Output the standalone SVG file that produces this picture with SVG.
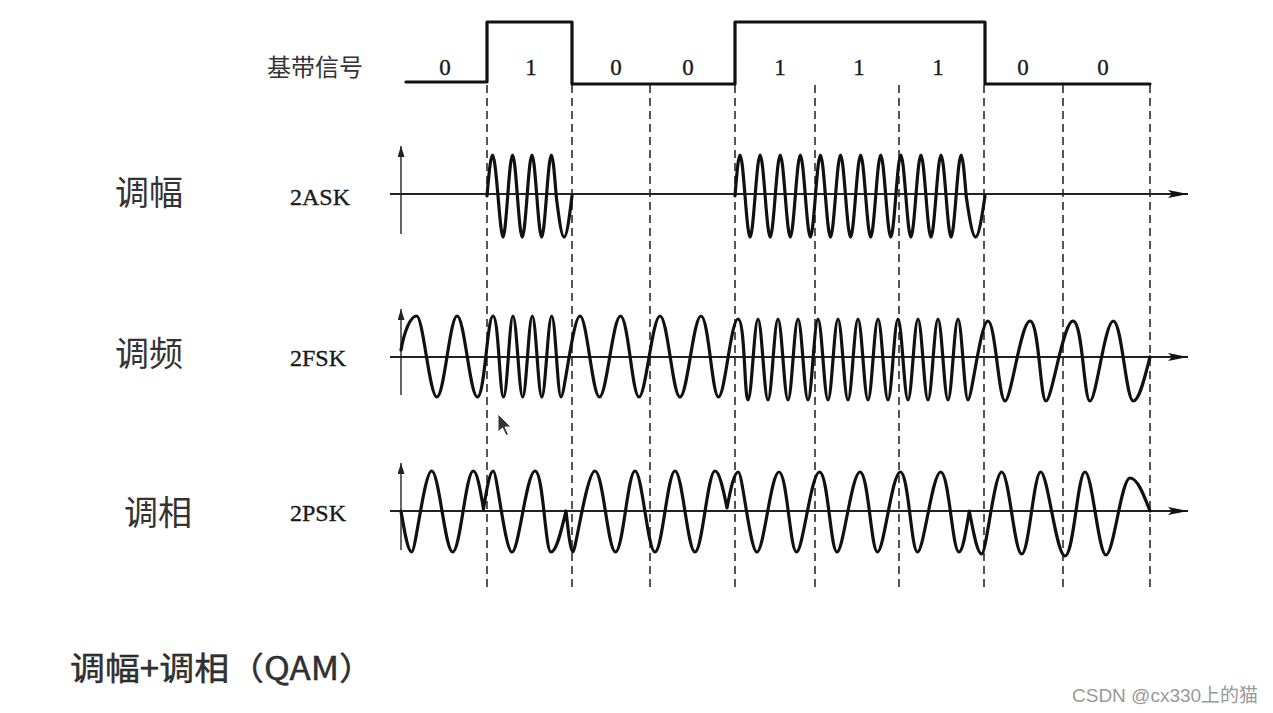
<svg xmlns="http://www.w3.org/2000/svg" width="1273" height="713" viewBox="0 0 1273 713">
<style>
.cjk{font-family:"Noto Sans CJK SC","Noto Sans",sans-serif;fill:#333}
.ser{font-family:"Liberation Serif",serif;fill:#1a1a1a;stroke:#1a1a1a;stroke-width:0.35}
.wave{fill:none;stroke:#111;stroke-width:3.2;stroke-linejoin:round;stroke-linecap:round}
.dash{stroke:#555;stroke-width:2;stroke-dasharray:8 5;fill:none}
.haxis{stroke:#222;stroke-width:2;fill:none}
.vaxis{stroke:#666;stroke-width:2;fill:none}
</style>
<defs>
<marker id="harr" markerUnits="userSpaceOnUse" markerWidth="22" markerHeight="10" refX="20" refY="4" orient="auto"><path d="M0,0 L20,4 L0,8 L4,4 z" fill="#111"/></marker>
<marker id="varr" markerUnits="userSpaceOnUse" markerWidth="13" markerHeight="9" refX="11" refY="3.5" orient="auto"><path d="M0,0 L11,3.5 L0,7 z" fill="#222"/></marker>
</defs>
<rect width="1273" height="713" fill="#fff"/>

<g id="grid">
<path class="dash" d="M487,85V592M572,85V592M650,85V592M735,85V592M815,85V592M899,85V592M984,85V592M1063,85V592M1150,85V592"/>
</g>

<g id="baseband">
<text class="cjk" x="267" y="76" font-size="24" fill="#444">基带信号</text>
<path class="wave" d="M406,82 H487 V22 H572 V84 H735 V22 H985 V84 H1150" stroke-linecap="butt"/>
<g class="ser" font-size="23" text-anchor="middle">
<text x="445" y="75">0</text><text x="531" y="75">1</text><text x="616" y="75">0</text><text x="688" y="75">0</text>
<text x="780" y="75">1</text><text x="859" y="75">1</text><text x="938" y="75">1</text><text x="1023" y="75">0</text><text x="1103" y="75">0</text>
</g>
</g>

<g id="ask">
<text class="cjk" x="115" y="205" font-size="34">调幅</text>
<text class="ser" x="290" y="205" font-size="24">2ASK</text>
<path class="vaxis" d="M401,234 V146" marker-end="url(#varr)"/>
<path class="haxis" d="M390,194 H1188" marker-end="url(#harr)"/>
<path class="wave" d="M487,196 c4.67,-54.7 6.33,-54.7 11,0 s5.58,54.7 9.7,0 s5.58,-54.7 9.7,0 s5.58,54.7 9.7,0 s5.58,-54.7 9.7,0 s5.58,54.7 9.7,0 s5.58,-54.7 9.7,0 c6.71,54.7 9.09,54.7 15.8,0"/>
<path class="wave" d="M735,196 c4.27,-54.7 5.78,-54.7 10.05,0 s5.78,54.7 10.05,0 s5.78,-54.7 10.05,0 s5.78,54.7 10.05,0 s5.78,-54.7 10.05,0 s5.78,54.7 10.05,0 s5.78,-54.7 10.05,0 s5.78,54.7 10.05,0 s5.78,-54.7 10.05,0 s5.78,54.7 10.05,0 s5.78,-54.7 10.05,0 s5.78,54.7 10.05,0 s5.78,-54.7 10.05,0 s5.78,54.7 10.05,0 s5.78,-54.7 10.05,0 s5.78,54.7 10.05,0 s5.78,-54.7 10.05,0 s5.78,54.7 10.05,0 s5.78,-54.7 10.05,0 s5.78,54.7 10.05,0 s5.78,-54.7 10.05,0 s5.78,54.7 10.05,0 s5.78,-54.7 10.05,0 c8,54.7 10.85,54.7 18.85,0"/>
</g>

<g id="fsk">
<text class="cjk" x="115" y="366" font-size="34">调频</text>
<text class="ser" x="290" y="366" font-size="24">2FSK</text>
<path class="vaxis" d="M401,395 V309" marker-end="url(#varr)"/>
<path class="haxis" d="M390,357 H1188" marker-end="url(#harr)"/>
<path class="wave" d="M401,350 C404,333 410,316 416.6,316 S429.5,397 436.9,397 S449.8,316 457.1,316 S470,397 477.4,397 S487.3,316 493,316 S499.7,397 503.5,397 S509.5,316 513,316 S519.2,397 522.7,397 S528.8,316 532.3,316 S538.3,397 541.8,397 S548.1,316 551.7,316 S557.6,397 561,397 S573.1,316 580,316 S592.4,397 599.5,397 S612.9,316 620.5,316 S632.3,397 639,397 S652.4,316 660,316 S672.7,397 680,397 S693.4,316 701,316 S712.1,397 718.5,397 S730.9,319 738,319 s6.37,81 10,81 s6.37,-81 10,-81 s6.37,81 10,81 s6.37,-81 10,-81 s6.37,81 10,81 s6.37,-81 10,-81 s6.37,81 10,81 s6.37,-81 10,-81 s6.37,81 10,81 s6.37,-81 10,-81 s6.37,81 10,81 s6.37,-81 10,-81 s6.37,81 10,81 s6.37,-81 10,-81 s6.37,81 10,81 s6.37,-81 10,-81 s6.37,81 10,81 s6.37,-81 10,-81 s6.37,81 10,81 s6.37,-81 10,-81 s6.37,81 10,81 s6.37,-81 10,-81 s6.37,81 10,81 S980.7,321 988,321 S998.8,401 1005,401 S1020.9,321 1030,321 S1040.2,401 1046,401 S1063.2,321 1073,321 S1083.8,401 1090,401 S1104.8,321 1113.3,321 S1126,401 1133.3,401 C1139.3,401 1144.6,378 1150,357"/>
</g>

<g id="psk">
<text class="cjk" x="124" y="525" font-size="34">调相</text>
<text class="ser" x="290" y="521" font-size="24">2PSK</text>
<path class="vaxis" d="M401,550 V463" marker-end="url(#varr)"/>
<path class="haxis" d="M390,511 H1188" marker-end="url(#harr)"/>
<path class="wave" d="M401,511 C404.5,531.5 407.8,552 411.7,552 S424.4,471 431.7,471 S445.1,552 452.7,552 S465.8,471 473.3,471 C477,471 480.2,489 483.5,509 C486.7,489 489.8,471 493.3,471 S505.2,552 512,552 S526.6,471 535,471 S545.2,552 551,552 C556.4,552 561.1,531.5 566,511 C568.3,531.5 570.5,552 573,552 S587,471 595,471 S608,552 615.5,552 S627.9,471 635,471 S647.7,552 655,552 S667.7,471 675,471 S687.7,552 695,552 S707.7,471 715,471 C719.3,471 723.1,488.5 727,508 C730.7,488.5 734.2,472 738.3,472 S750.2,552 757,552 S771,472 779,472 S790.1,552 796.5,552 S811.1,472 819.5,472 S830.6,552 837,552 S851.6,472 860,472 S871.1,552 877.5,552 S892,472 900.3,472 S911.2,552 917.5,552 S932.3,472 940.7,472 S952.3,552 959,552 C962.7,552 965.9,531.5 969.3,511 C973.3,531.5 977.2,554 981.7,554 S994.4,472 1001.7,472 S1014.4,554 1021.7,554 S1033.8,472 1040.7,472 S1056.2,556 1065,556 S1077.7,472 1085,472 S1098.4,555 1106,555 S1121.3,478 1130,478 C1137.2,478 1143.5,494 1150,511"/>
</g>

<g id="cursor">
<path d="M498,414 l0,18 l4.5,-4 l3.5,7.5 l2.5,-1 l-3.5,-7.5 l6,0 z" fill="#333" stroke="#fff" stroke-width="1"/>
</g>

<g id="caption">
<text class="cjk" x="70" y="680" font-size="32" fill="#1a1a1a" stroke="#1a1a1a" stroke-width="0.4" textLength="304" lengthAdjust="spacingAndGlyphs">调幅+调相（QAM）</text>
</g>

<g id="watermark">
<text x="1072" y="702" font-size="19" font-family="'Liberation Sans','Noto Sans CJK SC',sans-serif" fill="#999">CSDN @cx330上的猫</text>
</g>
</svg>
